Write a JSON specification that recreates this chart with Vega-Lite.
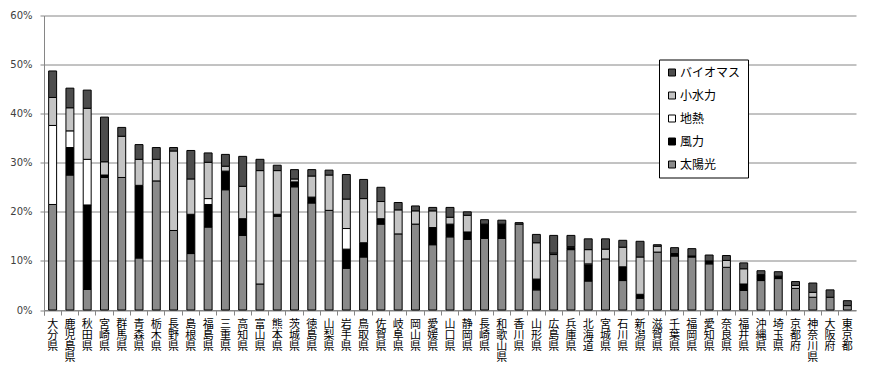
{
  "$schema": "https://vega.github.io/schema/vega-lite/v6.json",
  "width": 812,
  "height": 294.5,
  "autosize": {"type": "none"},
  "padding": {"left": 44, "top": 15.5, "right": 19, "bottom": 58},
  "background": "white",
  "config": {"view": {"stroke": null}, "font": "DejaVu Sans"},
  "data": {"values": [
    {"pref": "大分県", "太陽光": 21.5, "風力": 0, "地熱": 16.1, "小水力": 5.7, "バイオマス": 5.4},
    {"pref": "鹿児島県", "太陽光": 27.5, "風力": 5.6, "地熱": 3.4, "小水力": 4.7, "バイオマス": 4.0},
    {"pref": "秋田県", "太陽光": 4.2, "風力": 17.2, "地熱": 9.3, "小水力": 10.4, "バイオマス": 3.7},
    {"pref": "宮崎県", "太陽光": 27.0, "風力": 0.5, "地熱": 0, "小水力": 2.7, "バイオマス": 9.1},
    {"pref": "群馬県", "太陽光": 27.0, "風力": 0, "地熱": 0, "小水力": 8.4, "バイオマス": 1.8},
    {"pref": "青森県", "太陽光": 10.6, "風力": 14.8, "地熱": 0, "小水力": 5.3, "バイオマス": 3.0},
    {"pref": "栃木県", "太陽光": 26.3, "風力": 0, "地熱": 0, "小水力": 4.4, "バイオマス": 2.4},
    {"pref": "長野県", "太陽光": 16.2, "風力": 0, "地熱": 0, "小水力": 16.2, "バイオマス": 0.7},
    {"pref": "島根県", "太陽光": 11.5, "風力": 8.0, "地熱": 0, "小水力": 7.2, "バイオマス": 5.8},
    {"pref": "福島県", "太陽光": 16.9, "風力": 4.6, "地熱": 1.2, "小水力": 7.4, "バイオマス": 1.9},
    {"pref": "三重県", "太陽光": 24.5, "風力": 3.8, "地熱": 0, "小水力": 1.0, "バイオマス": 2.4},
    {"pref": "高知県", "太陽光": 15.2, "風力": 3.4, "地熱": 0, "小水力": 6.6, "バイオマス": 6.1},
    {"pref": "富山県", "太陽光": 5.3, "風力": 0, "地熱": 0, "小水力": 23.1, "バイオマス": 2.3},
    {"pref": "熊本県", "太陽光": 19.1, "風力": 0.4, "地熱": 0, "小水力": 8.9, "バイオマス": 1.1},
    {"pref": "茨城県", "太陽光": 25.1, "風力": 1.0, "地熱": 0, "小水力": 0.6, "バイオマス": 1.9},
    {"pref": "徳島県", "太陽光": 21.8, "風力": 1.2, "地熱": 0, "小水力": 4.3, "バイオマス": 1.3},
    {"pref": "山梨県", "太陽光": 20.3, "風力": 0, "地熱": 0, "小水力": 7.2, "バイオマス": 1.0},
    {"pref": "岩手県", "太陽光": 8.5, "風力": 3.9, "地熱": 4.2, "小水力": 6.0, "バイオマス": 5.0},
    {"pref": "鳥取県", "太陽光": 10.8, "風力": 2.9, "地熱": 0, "小水力": 9.0, "バイオマス": 3.9},
    {"pref": "佐賀県", "太陽光": 17.5, "風力": 1.1, "地熱": 0, "小水力": 3.5, "バイオマス": 2.9},
    {"pref": "岐阜県", "太陽光": 15.5, "風力": 0, "地熱": 0, "小水力": 4.9, "バイオマス": 1.5},
    {"pref": "岡山県", "太陽光": 17.5, "風力": 0, "地熱": 0, "小水力": 2.7, "バイオマス": 1.0},
    {"pref": "愛媛県", "太陽光": 13.3, "風力": 3.5, "地熱": 0, "小水力": 3.4, "バイオマス": 0.7},
    {"pref": "山口県", "太陽光": 14.9, "風力": 2.6, "地熱": 0, "小水力": 1.4, "バイオマス": 2.0},
    {"pref": "静岡県", "太陽光": 14.4, "風力": 1.5, "地熱": 0, "小水力": 3.4, "バイオマス": 0.7},
    {"pref": "長崎県", "太陽光": 14.6, "風力": 2.9, "地熱": 0, "小水力": 0, "バイオマス": 0.9},
    {"pref": "和歌山県", "太陽光": 14.6, "風力": 2.9, "地熱": 0, "小水力": 0, "バイオマス": 0.8},
    {"pref": "香川県", "太陽光": 17.5, "風力": 0, "地熱": 0, "小水力": 0, "バイオマス": 0.3},
    {"pref": "山形県", "太陽光": 4.1, "風力": 2.2, "地熱": 0, "小水力": 7.4, "バイオマス": 1.7},
    {"pref": "広島県", "太陽光": 11.3, "風力": 0, "地熱": 0, "小水力": 0.3, "バイオマス": 3.6},
    {"pref": "兵庫県", "太陽光": 12.3, "風力": 0.4, "地熱": 0, "小水力": 0.2, "バイオマス": 2.3},
    {"pref": "北海道", "太陽光": 5.9, "風力": 3.3, "地熱": 0.2, "小水力": 2.9, "バイオマス": 2.2},
    {"pref": "宮城県", "太陽光": 10.4, "風力": 0, "地熱": 0, "小水力": 2.0, "バイオマス": 2.1},
    {"pref": "石川県", "太陽光": 6.0, "風力": 2.8, "地熱": 0, "小水力": 4.0, "バイオマス": 1.4},
    {"pref": "新潟県", "太陽光": 2.4, "風力": 0.8, "地熱": 0, "小水力": 7.6, "バイオマス": 3.2},
    {"pref": "滋賀県", "太陽光": 11.8, "風力": 0, "地熱": 0, "小水力": 1.2, "バイオマス": 0.3},
    {"pref": "千葉県", "太陽光": 11.0, "風力": 0.5, "地熱": 0, "小水力": 0, "バイオマス": 1.2},
    {"pref": "福岡県", "太陽光": 10.8, "風力": 0.2, "地熱": 0, "小水力": 0, "バイオマス": 1.5},
    {"pref": "愛知県", "太陽光": 9.4, "風力": 0.6, "地熱": 0, "小水力": 0, "バイオマス": 1.2},
    {"pref": "奈良県", "太陽光": 8.7, "風力": 0, "地熱": 0, "小水力": 1.4, "バイオマス": 1.0},
    {"pref": "福井県", "太陽光": 4.0, "風力": 1.3, "地熱": 0, "小水力": 3.1, "バイオマス": 1.2},
    {"pref": "沖縄県", "太陽光": 6.0, "風力": 1.2, "地熱": 0, "小水力": 0, "バイオマス": 0.8},
    {"pref": "埼玉県", "太陽光": 6.4, "風力": 0.5, "地熱": 0, "小水力": 0, "バイオマス": 0.9},
    {"pref": "京都府", "太陽光": 4.4, "風力": 0, "地熱": 0, "小水力": 0.6, "バイオマス": 0.8},
    {"pref": "神奈川県", "太陽光": 2.6, "風力": 0, "地熱": 0, "小水力": 1.0, "バイオマス": 1.9},
    {"pref": "大阪府", "太陽光": 2.6, "風力": 0, "地熱": 0, "小水力": 0, "バイオマス": 1.5},
    {"pref": "東京都", "太陽光": 0.9, "風力": 0, "地熱": 0, "小水力": 0, "バイオマス": 1.0}
  ]},
  "transform": [
    {"fold": ["太陽光", "風力", "地熱", "小水力", "バイオマス"], "as": ["type", "v"]},
    {"filter": "datum.v > 0"},
    {"calculate": "indexof(['太陽光','風力','地熱','小水力','バイオマス'], datum.type)", "as": "k"}
  ],
  "mark": {"type": "bar", "stroke": "black", "strokeWidth": 1, "width": {"band": 0.46}},
  "encoding": {
    "x": {
      "field": "pref", "type": "nominal", "sort": null,
      "scale": {"paddingInner": 0, "paddingOuter": 0},
      "axis": {
        "title": null, "labelAngle": 0, "labelExpr": "split(datum.label, '')",
        "labelFont": "Noto Sans CJK JP", "labelFontSize": 11, "labelLineHeight": 11.2,
        "labelBaseline": "top", "labelPadding": 3, "labelColor": "black",
        "tickSize": 5, "tickColor": "#868686", "bandPosition": 0, "tickExtra": true,
        "domainColor": "#868686", "grid": false
      }
    },
    "y": {
      "field": "v", "type": "quantitative", "stack": "zero",
      "scale": {"domain": [0, 60], "nice": false},
      "axis": {
        "title": null, "values": [0, 10, 20, 30, 40, 50, 60], "labelExpr": "datum.value + '%'",
        "labelFont": "DejaVu Sans", "labelFontSize": 10, "labelColor": "#404040", "labelPadding": 8,
        "tickSize": 4, "tickColor": "#868686", "domainColor": "#868686",
        "gridColor": "#868686", "gridWidth": 1
      }
    },
    "color": {
      "field": "type", "type": "nominal",
      "scale": {"domain": ["バイオマス", "小水力", "地熱", "風力", "太陽光"],
                "range": ["#4d4d4d", "#c4c4c4", "#ffffff", "#000000", "#8a8a8a"]},
      "legend": {
        "orient": "none", "legendX": 615, "legendY": 44, "title": null,
        "fillColor": "white", "strokeColor": "black", "padding": 7,
        "symbolType": "square", "symbolSize": 49, "symbolStrokeColor": "black", "symbolStrokeWidth": 1,
        "labelFont": "Noto Sans CJK JP", "labelFontSize": 12, "labelColor": "black",
        "rowPadding": 11, "labelOffset": 2
      }
    },
    "order": {"field": "k", "type": "quantitative"}
  }
}
